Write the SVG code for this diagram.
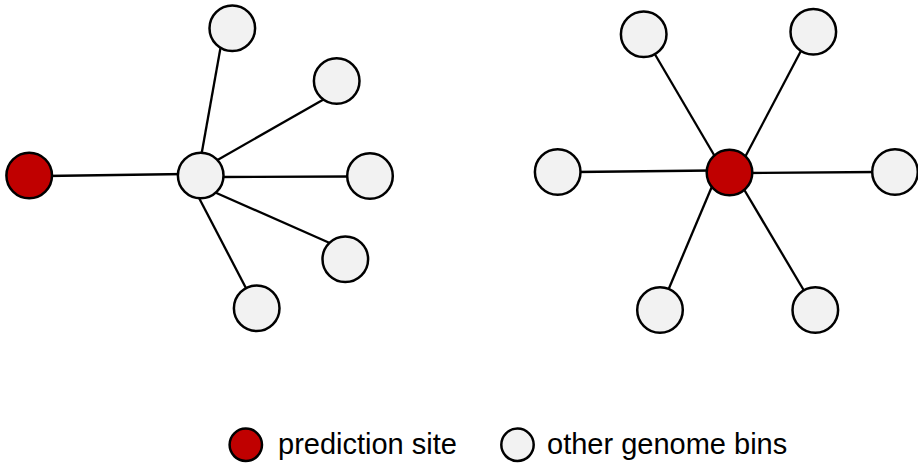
<svg xmlns="http://www.w3.org/2000/svg" width="918" height="465" viewBox="0 0 918 465">
  <style>
    .edge { stroke: #000; stroke-width: 2.3; fill: none; }
    .node { stroke: #000; stroke-width: 2.5; }
    .site { fill: #C00000; }
    .bin { fill: #F2F2F2; }
    .label { font-family: "Liberation Sans", Arial, sans-serif; font-size: 29px; fill: #000; }
  </style>
  <rect width="918" height="465" fill="#fff"/>

  <!-- connectors -->
  <g id="edges">
    <!-- left graph -->
    <line class="edge" x1="45" y1="176" x2="186" y2="174"/>
    <line class="edge" x1="201" y1="157" x2="221" y2="45"/>
    <line class="edge" x1="214" y1="162" x2="327" y2="97.5"/>
    <line class="edge" x1="220" y1="177" x2="352" y2="176.5"/>
    <line class="edge" x1="213" y1="191.5" x2="332" y2="244"/>
    <line class="edge" x1="198" y1="196" x2="248" y2="292"/>
    <!-- right graph -->
    <line class="edge" x1="576" y1="172" x2="712" y2="170.5"/>
    <line class="edge" x1="746" y1="173" x2="877" y2="172"/>
    <line class="edge" x1="653" y1="51" x2="717" y2="160"/>
    <line class="edge" x1="803" y1="47" x2="743" y2="161"/>
    <line class="edge" x1="713" y1="184" x2="667" y2="293"/>
    <line class="edge" x1="742" y1="186" x2="806" y2="294"/>
  </g>

  <!-- left graph nodes -->
  <g id="l-site"><circle class="node site" cx="29.2" cy="175.5" r="22.8"/></g>
  <g id="l-hub"><circle class="node bin" cx="200.7" cy="175.5" r="22.8"/></g>
  <g id="l-bin1"><circle class="node bin" cx="232.3" cy="28.3" r="22.8"/></g>
  <g id="l-bin2"><circle class="node bin" cx="336.7" cy="81" r="22.8"/></g>
  <g id="l-bin3"><circle class="node bin" cx="370" cy="176" r="22.8"/></g>
  <g id="l-bin4"><circle class="node bin" cx="345.3" cy="259.3" r="22.8"/></g>
  <g id="l-bin5"><circle class="node bin" cx="256.7" cy="308.3" r="22.8"/></g>

  <!-- right graph nodes -->
  <g id="r-site"><circle class="node site" cx="729.5" cy="172.5" r="22.8"/></g>
  <g id="r-bin1"><circle class="node bin" cx="643.7" cy="34.3" r="22.8"/></g>
  <g id="r-bin2"><circle class="node bin" cx="813.3" cy="31.7" r="22.8"/></g>
  <g id="r-bin3"><circle class="node bin" cx="557.7" cy="172" r="22.8"/></g>
  <g id="r-bin4"><circle class="node bin" cx="895" cy="172" r="22.8"/></g>
  <g id="r-bin5"><circle class="node bin" cx="660" cy="310" r="22.8"/></g>
  <g id="r-bin6"><circle class="node bin" cx="815.3" cy="310" r="22.8"/></g>

  <!-- legend -->
  <g id="legend">
    <circle class="node site" cx="245.8" cy="444.8" r="16.2"/>
    <text class="label" x="278" y="454">prediction site</text>
    <circle class="node bin" cx="517.5" cy="444.8" r="16.2"/>
    <text class="label" x="547" y="454">other genome bins</text>
  </g>
</svg>
